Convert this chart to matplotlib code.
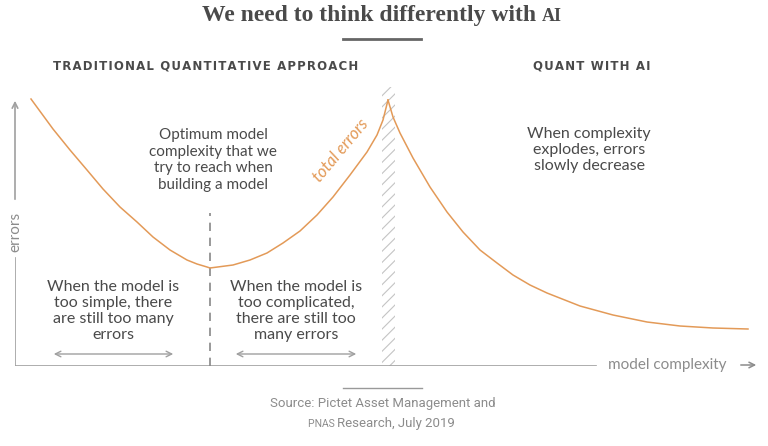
import matplotlib.pyplot as plt
from matplotlib.patches import Rectangle

# Total errors curve (complexity, errors), arbitrary units
traditional_x = [16, 27, 38, 55, 72, 88, 105, 122, 138, 155, 172, 182, 192, 195,
                 218, 235, 252, 268, 285, 302, 318, 335, 352, 362, 368, 373]
traditional_y = [267, 252, 237, 216, 196, 177, 159, 144, 129, 116, 106, 102, 99, 98,
                 101, 106, 113, 123, 135, 151, 169, 191, 214, 231, 246, 266]
ai_x = [373, 378, 385, 398, 415, 432, 448, 465, 482, 498, 515, 532, 565, 598, 632,
        665, 698, 733]
ai_y = [266, 249, 233, 208, 179, 154, 134, 116, 103, 91, 81, 73, 60, 51, 44,
        40, 38, 37]

optimum_x = 195
threshold_x = (367, 380)

title = 'We need to think differently with '
title_caps = 'AI'
left_header = 'TRADITIONAL QUANTITATIVE APPROACH'
right_header = 'QUANT WITH AI'
optimum_text = 'Optimum model\ncomplexity that we\ntry to reach when\nbuilding a model'
simple_text = 'When the model is\ntoo simple, there\nare still too many\nerrors'
complicated_text = 'When the model is\ntoo complicated,\nthere are still too\nmany errors'
ai_text = 'When complexity\nexplodes, errors\nslowly decrease'

orange = '#E39A58'
dark = '#4a4a4a'
grey = '#8c8c8c'
body = ['Lato', 'DejaVu Sans']
narrow = ['Roboto', 'DejaVu Sans']

plt.rcParams['hatch.linewidth'] = 0.8
plt.rcParams['hatch.color'] = '#c4c4c4'

fig = plt.figure(figsize=(7.68, 4.46), dpi=100)

# page axes in pixel units for the decorations
page = fig.add_axes([0, 0, 1, 1])
page.set_xlim(0, 768)
page.set_ylim(446, 0)
page.axis('off')

# chart axes: origin at the axis corner
ax = fig.add_axes([15 / 768, 80 / 446, 753 / 768, 286 / 446])
ax.set_xlim(0, 753)
ax.set_ylim(0, 286)
ax.axis('off')

# title with small caps "AI"
t1 = page.text(372, 21, title, ha='center', va='baseline', fontsize=17,
               family='Liberation Serif', weight='bold', color=dark)
page.annotate(title_caps, xy=(1, 21), xycoords=(t1, 'data'), ha='left', va='baseline',
              fontsize=13, family='Liberation Serif', weight='bold', color=dark)
page.plot([343, 421], [39, 39], color='#666666', lw=2)

# section headers
page.text(206, 66, '\u200a'.join(left_header), ha='center', va='center', fontsize=8.5,
          family='DejaVu Sans', weight='bold', color=dark)
page.text(592, 66, '\u200a'.join(right_header), ha='center', va='center', fontsize=8.5,
          family='DejaVu Sans', weight='bold', color=dark)

# axes lines
ax.plot([0, 581], [0, 0], color='#a0a0a0', lw=1.2)
ax.plot([0, 0], [0, 108], color='#a0a0a0', lw=1.2)
ax.annotate('', xy=(0, 268), xytext=(0, 164),
            arrowprops=dict(arrowstyle='->', color='#a0a0a0', lw=1.2))
ax.text(0, 134, 'errors', rotation=90, ha='center', va='center', fontsize=11,
        family=body, color=grey)
page.text(608, 365, 'model complexity', ha='left', va='center', fontsize=11,
          family=body, color=grey)
page.annotate('', xy=(759, 365), xytext=(738, 365),
              arrowprops=dict(arrowstyle='->', color=grey, lw=1.1))

# threshold band
ax.add_patch(Rectangle((threshold_x[0], 0), threshold_x[1] - threshold_x[0], 279,
                       facecolor='white', edgecolor='#c4c4c4', hatch='///', lw=0))

# optimum line
ax.plot([optimum_x, optimum_x], [0, 153], color='#888888', lw=1.2, ls=(0, (5, 4)))

# curve
ax.plot(traditional_x, traditional_y, color=orange, lw=1.1, solid_joinstyle='round')
ax.plot(ai_x, ai_y, color=orange, lw=1.1, solid_joinstyle='round')
page.text(341, 150, 'total errors', rotation=50, ha='center', va='center', fontsize=12,
          family=body, style='italic', color=orange)

# annotations
page.text(213, 160, optimum_text, ha='center', va='center', fontsize=11,
          family=body, color=dark, linespacing=1.25)
page.text(113, 311, simple_text, ha='center', va='center', fontsize=11.5,
          family=body, color=dark, linespacing=1.2)
page.text(296, 311, complicated_text, ha='center', va='center', fontsize=11.5,
          family=body, color=dark, linespacing=1.2)
page.text(589, 150, ai_text, ha='center', va='center', fontsize=11.5,
          family=body, color=dark, linespacing=1.2)

arrow = dict(arrowstyle='<->', color='#a0a0a0', lw=1.0)
page.annotate('', xy=(176, 354), xytext=(51, 354), arrowprops=arrow)
page.annotate('', xy=(359, 354), xytext=(233, 354), arrowprops=arrow)

# source
page.plot([343, 422], [388, 388], color='#999999', lw=1)
page.text(383, 407, 'Source: Pictet Asset Management and', ha='center', va='baseline',
          fontsize=9.5, family=narrow, color=grey)
s2 = page.text(396, 427, 'Research, July 2019', ha='center', va='baseline',
               fontsize=9.5, family=narrow, color=grey)
page.annotate('PNAS ', xy=(0, 427), xycoords=(s2, 'data'), ha='right', va='baseline',
              fontsize=7.5, family=narrow, color=grey)

fig.savefig('out.png', dpi=100, facecolor='white')
